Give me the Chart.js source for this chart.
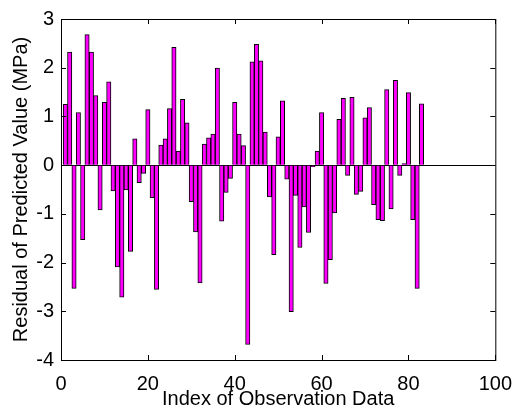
<!DOCTYPE html>
<html>
<head>
<meta charset="utf-8">
<script src="https://cdn.jsdelivr.net/npm/chart.js@4.4.1/dist/chart.umd.min.js"></script>
<style>
  html, body { margin: 0; padding: 0; background: #fff; }
  #wrap { width: 516px; height: 408px; }
</style>
</head>
<body>
<div id="wrap"><canvas id="residualChart" width="516" height="408"></canvas></div>
<script>
// residuals, observation 1..83
const residuals = [
  1.25, 2.32, -2.53, 1.08, -1.53, 2.68, 2.32, 1.43, -0.92, 1.29,
  1.71, -0.53, -2.09, -2.71, -0.51, -1.77, 0.54, -0.36, -0.17, 1.14,
  -0.67, -2.55, 0.41, 0.54, 1.16, 2.42, 0.29, 1.35, 0.87, -0.75,
  -1.37, -2.42, 0.43, 0.56, 0.64, 1.99, -1.15, -0.56, -0.27, 1.29,
  0.64, 0.40, -3.68, 2.12, 2.48, 2.14, 0.68, -0.65, -1.84, 0.58,
  1.32, -0.29, -3.01, -0.62, -1.69, -0.86, -1.38, -0.03, 0.29, 1.08,
  -2.43, -1.94, -0.98, 0.94, 1.37, -0.21, 1.39, -0.60, -0.54, 0.97,
  1.18, -0.81, -1.12, -1.14, 1.55, -0.90, 1.74, -0.21, 0.03, 1.49,
  -1.12, -2.53, 1.26
];
const xTicks = [0, 20, 40, 60, 80, 100];
const yTicks = [-4, -3, -2, -1, 0, 1, 2, 3];

const points = residuals.map((v, i) => ({ x: i + 1, y: v }));
const fontFam = '"Liberation Sans", Arial, sans-serif';

// matlab style box with inward tick marks
const boxPlugin = {
  id: 'box',
  afterDraw(chart) {
    const { ctx, chartArea: a, scales } = chart;
    ctx.save();
    ctx.strokeStyle = '#000';
    ctx.lineWidth = 1;
    ctx.strokeRect(a.left + 0.5, a.top + 0.5, a.right - a.left, a.bottom - a.top);
    ctx.beginPath();
    xTicks.forEach(t => {
      const px = Math.round(scales.x.getPixelForValue(t)) + 0.5;
      ctx.moveTo(px, a.bottom); ctx.lineTo(px, a.bottom - 5);
      ctx.moveTo(px, a.top); ctx.lineTo(px, a.top + 5);
    });
    yTicks.forEach(t => {
      const py = Math.round(scales.y.getPixelForValue(t)) + 0.5;
      ctx.moveTo(a.left, py); ctx.lineTo(a.left + 5, py);
      ctx.moveTo(a.right, py); ctx.lineTo(a.right - 5, py);
    });
    ctx.stroke();
    ctx.restore();
  }
};

new Chart(document.getElementById('residualChart').getContext('2d'), {
  type: 'bar',
  data: {
    datasets: [{
      data: points,
      backgroundColor: '#ff00ff',
      borderColor: '#000',
      borderWidth: 1,
      barPercentage: 1,
      categoryPercentage: 1
    }]
  },
  options: {
    responsive: false,
    animation: false,
    layout: { padding: { top: 19, right: 15, left: 0, bottom: 0 } },
    plugins: { legend: { display: false }, tooltip: { enabled: false } },
    scales: {
      x: {
        type: 'linear',
        min: 0, max: 100,
        offset: false,
        afterBuildTicks: s => { s.ticks = xTicks.map(v => ({ value: v })); },
        afterFit: s => { s.height = 48; },
        grid: { display: false },
        border: { display: false },
        ticks: { color: '#000', padding: 4, maxRotation: 0, font: { family: fontFam, size: 20 } },
        title: {
          display: true, text: 'Index of Observation Data', color: '#000',
          font: { family: fontFam, size: 20, lineHeight: 1 }, padding: { top: 0, bottom: -1 }
        }
      },
      y: {
        min: -4, max: 3,
        afterBuildTicks: s => { s.ticks = yTicks.map(v => ({ value: v })); },
        afterFit: s => { s.width = 61; },
        grid: {
          drawTicks: false,
          color: c => (c.tick && c.tick.value === 0 ? '#000' : 'rgba(0,0,0,0)')
        },
        border: { display: false },
        ticks: { color: '#000', padding: 7, font: { family: fontFam, size: 20 } },
        title: {
          display: true, text: 'Residual of Predicted Value (MPa)', color: '#000',
          font: { family: fontFam, size: 20 }, padding: { top: 9, bottom: 0 }
        }
      }
    }
  },
  plugins: [boxPlugin]
});
</script>
</body>
</html>
